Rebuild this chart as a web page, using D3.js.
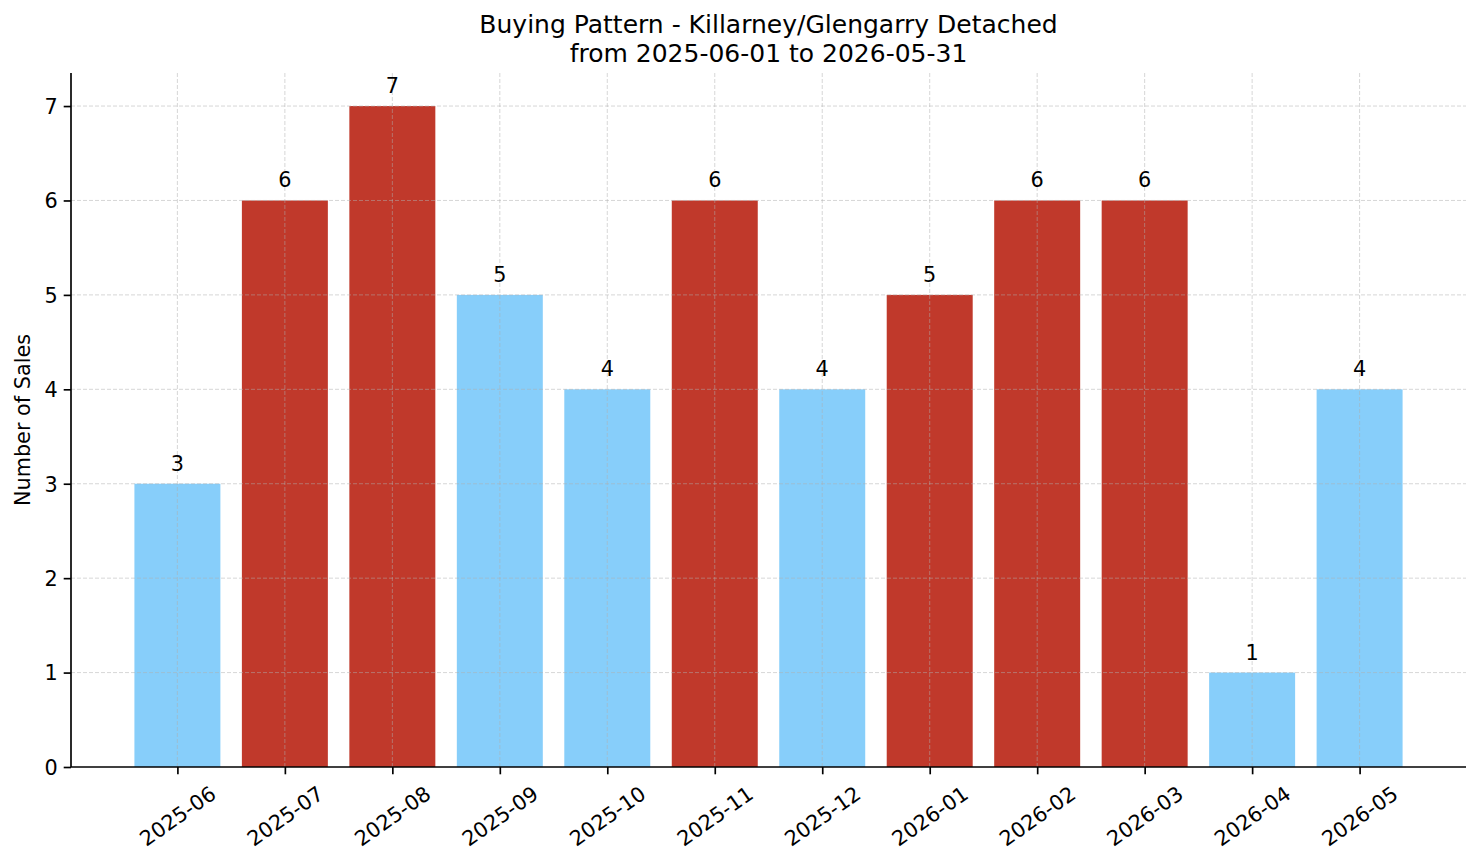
<!DOCTYPE html>
<html>
<head>
<meta charset="utf-8">
<script src="https://cdn.jsdelivr.net/npm/d3@7"></script>
<style>
  body { margin: 0; background: #fff; }
  text { font-family: "DejaVu Sans", sans-serif; fill: #000; }
</style>
</head>
<body>
<svg id="chart"></svg>
<script>
// data
const months = ["2025-06", "2025-07", "2025-08", "2025-09", "2025-10", "2025-11",
                "2025-12", "2026-01", "2026-02", "2026-03", "2026-04", "2026-05"];
const sales = [3, 6, 7, 5, 4, 6, 4, 5, 6, 6, 1, 4];
// "hi" = red bar, "lo" = light blue bar
const level = ["lo", "hi", "hi", "lo", "lo", "hi", "lo", "hi", "hi", "hi", "lo", "lo"];
const yTicks = [0, 1, 2, 3, 4, 5, 6, 7];

const W = 1481, H = 863;
const margin = {top: 73, right: 15, bottom: 96, left: 71};
const width = W - margin.left - margin.right;
const height = H - margin.top - margin.bottom;
const colors = {hi: "#c0392b", lo: "#87cefa"};

const svg = d3.select("svg#chart")
    .attr("width", W)
    .attr("height", H);

const g = svg.append("g")
    .attr("transform", "translate(" + margin.left + "," + margin.top + ")");

// matplotlib-like: bars at integer positions, width .8, 5% margins
const xLin = d3.scaleLinear()
    .domain([-0.4 - 0.59, months.length - 1 + 0.4 + 0.59])
    .range([0, width]);
const yScale = d3.scaleLinear()
    .domain([0, 7.35])
    .range([height, 0]);

const data = months.map((m, i) => ({month: m, value: sales[i], level: level[i], i: i}));
const barW = xLin(0.8) - xLin(0);

// bars
g.selectAll("rect.bar")
    .data(data)
    .enter().append("rect")
    .attr("class", "bar")
    .attr("x", (d) => xLin(d.i - 0.4))
    .attr("y", (d) => yScale(d.value))
    .attr("width", barW)
    .attr("height", (d) => yScale(0) - yScale(d.value))
    .attr("fill", (d) => colors[d.level]);

// grid (drawn over bars)
const grid = g.append("g").attr("class", "grid");
grid.selectAll("line.h")
    .data(yTicks.slice(1))
    .enter().append("line")
    .attr("x1", 0).attr("x2", width)
    .attr("y1", (d) => yScale(d)).attr("y2", (d) => yScale(d))
    .attr("stroke", "#b0b0b0")
    .attr("stroke-opacity", 0.5)
    .attr("stroke-width", 1)
    .attr("stroke-dasharray", "4,2");
grid.selectAll("line.v")
    .data(data)
    .enter().append("line")
    .attr("x1", (d) => xLin(d.i)).attr("x2", (d) => xLin(d.i))
    .attr("y1", 0).attr("y2", height)
    .attr("stroke", "#b0b0b0")
    .attr("stroke-opacity", 0.5)
    .attr("stroke-width", 1)
    .attr("stroke-dasharray", "4,2");

// value labels
g.selectAll("text.label")
    .data(data)
    .enter().append("text")
    .attr("class", "label")
    .attr("x", (d) => xLin(d.i))
    .attr("y", (d) => yScale(d.value) - 13)
    .attr("text-anchor", "middle")
    .attr("font-size", "20.8px")
    .text((d) => d.value);

// y axis
const yAxis = g.append("g")
    .call(d3.axisLeft(yScale).tickValues(yTicks).tickFormat(d3.format("d")).tickSize(7.3).tickPadding(6));
yAxis.select(".domain").attr("stroke", "#000").attr("stroke-width", 1.67).attr("d", "M0,0V" + height);
yAxis.selectAll(".tick line").attr("stroke", "#000").attr("stroke-width", 1.67);
yAxis.selectAll(".tick text")
    .attr("font-size", "20.8px")
    .attr("font-family", "DejaVu Sans")
    .attr("dy", "0.35em");

// x axis
const xAxis = g.append("g")
    .attr("transform", "translate(0," + height + ")")
    .call(d3.axisBottom(xLin).tickValues(d3.range(months.length)).tickFormat((i) => months[i]).tickSize(7.3));
xAxis.select(".domain").attr("stroke", "#000").attr("stroke-width", 1.67).attr("d", "M0,0H" + width);
xAxis.selectAll(".tick line").attr("stroke", "#000").attr("stroke-width", 1.67);
xAxis.selectAll(".tick text")
    .attr("font-size", "20.8px")
    .attr("font-family", "DejaVu Sans")
    .attr("text-anchor", "middle")
    .attr("dy", null)
    .attr("dominant-baseline", "central")
    .each(function () {
        const t = d3.select(this);
        const w = this.getComputedTextLength();
        const a = 35 * Math.PI / 180;
        const boxH = 24;
        const yc = 14.6 + (w * Math.sin(a) + boxH * Math.cos(a)) / 2;
        t.attr("y", yc).attr("x", 0)
            .attr("transform", "rotate(-35,0," + yc + ")");
    });

// y label
svg.append("text")
    .attr("transform", "translate(30," + (margin.top + height / 2) + ") rotate(-90)")
    .attr("text-anchor", "middle")
    .attr("font-size", "20.8px")
    .text("Number of Sales");

// title
const title = svg.append("text")
    .attr("x", margin.left + width / 2)
    .attr("text-anchor", "middle")
    .attr("font-size", "25px");
title.append("tspan").attr("x", margin.left + width / 2).attr("y", 33)
    .text("Buying Pattern - Killarney/Glengarry Detached");
title.append("tspan").attr("x", margin.left + width / 2).attr("y", 62)
    .text("from 2025-06-01 to 2026-05-31");
</script>
</body>
</html>
